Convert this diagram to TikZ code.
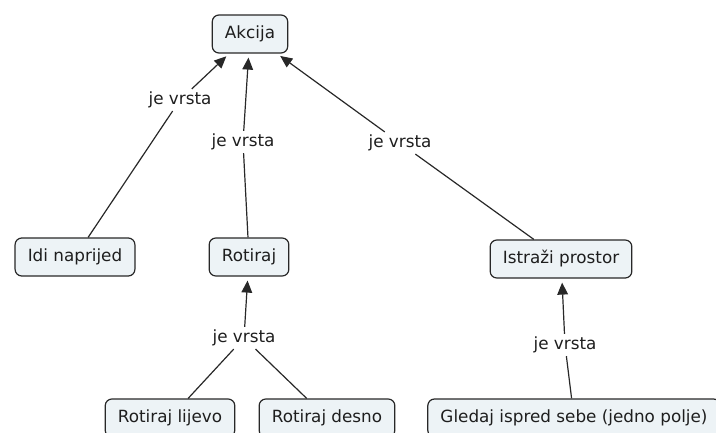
\documentclass[tikz,border=0pt]{standalone}
\usepackage{fontspec}
\setmainfont{DejaVu Sans}
\usepackage{xcolor}
\usepackage{tikz}
\usetikzlibrary{arrows.meta}
\definecolor{boxfill}{RGB}{237,243,246}
\definecolor{boxline}{RGB}{40,40,40}
\definecolor{textgray}{RGB}{30,30,30}

\begin{document}
\begin{tikzpicture}[x=0.75pt,y=-0.75pt,
        concept/.style={draw=boxline,fill=boxfill,rounded corners=5pt,line width=0.9pt,
            inner xsep=9.5pt,minimum height=28.5pt,text=textgray,font=\fontsize{12.6}{14}\selectfont},
        linkword/.style={inner sep=2pt,text=textgray,font=\fontsize{12.6}{14}\selectfont},
        isa/.style={line width=0.9pt,draw=boxline,-{Triangle[length=9pt,width=8pt]},shorten >=3pt},
        plain/.style={line width=0.9pt,draw=boxline}]
            \useasboundingbox (0,0) rectangle (716,432);
            
            % Concepts
            \node[concept] (akcija) at (250,34) {Akcija};
            \node[concept] (idi) at (75,257) {Idi naprijed};
            \node[concept] (rotiraj) at (249,257) {Rotiraj};
            \node[concept] (istrazi) at (561,259) {Istraži prostor};
            \node[concept] (lijevo) at (170,418) {Rotiraj lijevo};
            \node[concept] (desno) at (327,418) {Rotiraj desno};
            \node[concept] (gledaj) at (574,418) {Gledaj ispred sebe (jedno polje)};
            
            % Linking phrases
            \node[linkword] (l1) at (180,100) {je vrsta};
            \node[linkword] (l2) at (243,142) {je vrsta};
            \node[linkword] (l3) at (400,143) {je vrsta};
            \node[linkword] (l4) at (244,338) {je vrsta};
            \node[linkword] (l5) at (565,345) {je vrsta};
            
            % Connections
            \draw[plain] (idi) -- (l1);
            \draw[isa] (l1) -- (akcija);
            \draw[plain] (rotiraj) -- (l2);
            \draw[isa] (l2) -- (akcija);
            \draw[plain] (istrazi) -- (l3);
            \draw[isa] (l3) -- (akcija);
            \draw[plain] (lijevo) -- (l4);
            \draw[plain] (desno) -- (l4);
            \draw[isa] (l4) -- (rotiraj);
            \draw[plain] (gledaj) -- (l5);
            \draw[isa] (l5) -- (istrazi);
\end{tikzpicture}
\end{document}
